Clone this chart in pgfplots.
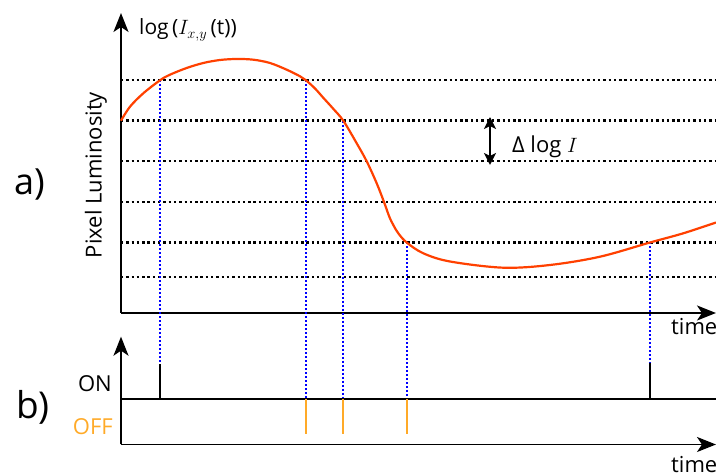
\documentclass[border=0pt]{standalone}
\usepackage{pgfplots}
\pgfplotsset{compat=1.18}
\usepackage{fontspec}
\setmainfont{Open Sans}
\usetikzlibrary{arrows.meta}
\definecolor{curvecol}{RGB}{255,64,0}
\definecolor{offcol}{RGB}{255,170,40}
\definecolor{evblue}{RGB}{0,0,255}
\begin{document}
\begin{tikzpicture}[x=1pt,y=1pt]
\useasboundingbox (0,0) rectangle (716,476);
\clip (0,0) rectangle (716,476);
\pgfplotsset{
  evaxis/.style={scale only axis, axis lines=left, xtick=\empty, ytick=\empty, clip=false,
    x axis line style={line width=1.8pt, -{Stealth[length=19pt,width=15pt,inset=5pt]}},
    y axis line style={line width=1.8pt, -{Stealth[length=19pt,width=15pt,inset=5pt]}},
    anchor=south west, xmin=121, xmax=716, width=595pt},
  hdot/.style={black, line width=2.4pt, dash pattern=on 2.4pt off 2.9pt},
  vdot/.style={evblue, line width=2pt, dash pattern=on 2pt off 2pt},
}
\begin{axis}[evaxis, at={(121,163)}, ymin=163, ymax=463, height=300pt]
\addplot[hdot] coordinates {(121,395.7)(716,395.7)};
\addplot[hdot] coordinates {(121,355.3)(716,355.3)};
\addplot[hdot] coordinates {(121,314.7)(716,314.7)};
\addplot[hdot] coordinates {(121,274)(716,274)};
\addplot[hdot] coordinates {(121,233.5)(716,233.5)};
\addplot[hdot] coordinates {(121,199)(716,199)};
\addplot[vdot] coordinates {(160,395.7)(160,112)};
\addplot[vdot] coordinates {(306,395.7)(306,77)};
\addplot[vdot] coordinates {(343,355.3)(343,77)};
\addplot[vdot] coordinates {(407,233.5)(407,77)};
\addplot[vdot] coordinates {(650,233.5)(650,113)};
\addplot[curvecol, line width=2.2pt, smooth, tension=0.55] coordinates {
(121,355.3)(130,369.3)(143.3,382.7)(160,395.7)(170,401.3)(186.7,408)(203.3,413)
(220,416)(236.7,417)(253.3,416.3)(270,413)(286.7,406.3)(300,399.7)(306,395.7)
(315,387.5)(323.3,378.2)(333,367.5)(343.3,355.3)(356.7,332.7)(366.7,314.7)(376.7,292.7)(384,274)
(389.3,259.3)(393.3,251)(398.3,242.7)(406.7,233.5)(423.3,222.7)(450,214.5)
(503.3,208.3)(550,211)(600,219.3)(650,233.5)(683.3,242.7)(716,253.5)};
\addplot[black, line width=2pt, {Stealth[length=12pt,width=12pt,inset=3pt]}-{Stealth[length=12pt,width=12pt,inset=3pt]}] coordinates {(490,311)(490,359)};
\node[anchor=base west, font=\fontsize{21}{24}\selectfont, inner sep=0pt] at (axis cs:139,441) {log\,(\(I_{x,y}\)\,(t))};
\node[rotate=90, font=\fontsize{22}{24}\selectfont, inner sep=0pt] at (axis cs:96,301) {Pixel Luminosity};
\node[anchor=base west, font=\fontsize{36}{40}\selectfont, inner sep=0pt] at (axis cs:14,281) {a)};
\node[anchor=base west, font=\fontsize{22}{24}\selectfont, inner sep=0pt] at (axis cs:671,141) {time};
\node[anchor=base west, font=\fontsize{22}{24}\selectfont, inner sep=0pt] at (axis cs:512,323) {Δ log \(I\)};
\end{axis}
\begin{axis}[evaxis, at={(121,31.5)}, ymin=31.5, ymax=139.3, height=107.8pt]
\addplot[black, line width=1.8pt] coordinates {(121,77)(716,77)};
\addplot[black, line width=1.8pt] coordinates {(160,77)(160,112)};
\addplot[black, line width=1.8pt] coordinates {(650,77)(650,113)};
\addplot[offcol, line width=2pt] coordinates {(306,77)(306,42)};
\addplot[offcol, line width=2pt] coordinates {(343,77)(343,42)};
\addplot[offcol, line width=2pt] coordinates {(407,77)(407,42)};
\node[anchor=base west, font=\fontsize{37}{40}\selectfont, inner sep=0pt] at (axis cs:16,57) {b)};
\node[anchor=base east, font=\fontsize{22}{24}\selectfont, inner sep=0pt] at (axis cs:112,84) {ON};
\node[anchor=base east, font=\fontsize{22}{24}\selectfont, inner sep=0pt, text=offcol] at (axis cs:113,41) {OFF};
\node[anchor=base west, font=\fontsize{22}{24}\selectfont, inner sep=0pt] at (axis cs:671,3) {time};
\end{axis}
\end{tikzpicture}
\end{document}
